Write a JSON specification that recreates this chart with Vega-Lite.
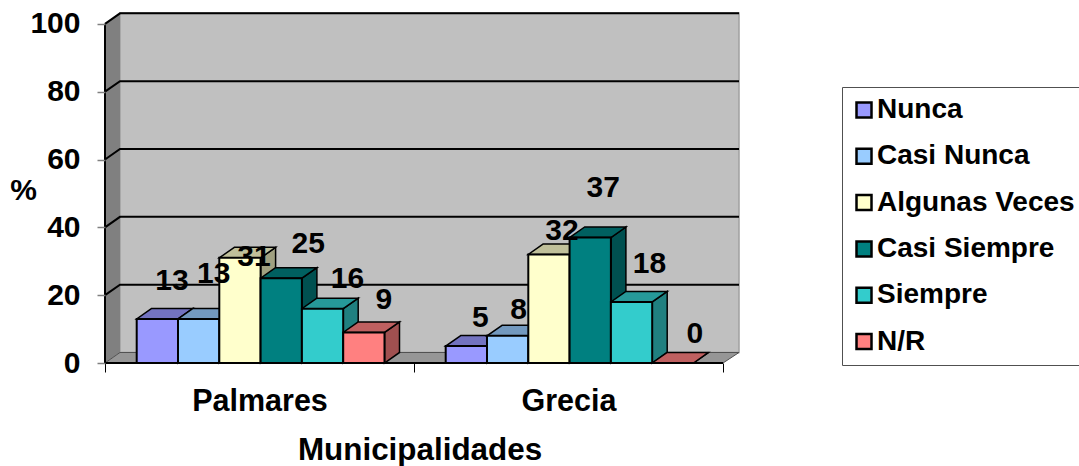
{
  "$schema": "https://vega.github.io/schema/vega-lite/v6.json",
  "width": 634,
  "height": 350,
  "autosize": "none",
  "padding": {"left": 105, "top": 13, "right": 340, "bottom": 103},
  "background": "white",
  "config": {"view": {"stroke": null}, "font": "Liberation Sans"},
  "datasets": {
    "answers": [
      {"municipio": "Palmares", "respuesta": "Nunca", "pct": 13},
      {"municipio": "Palmares", "respuesta": "Casi Nunca", "pct": 13},
      {"municipio": "Palmares", "respuesta": "Algunas Veces", "pct": 31},
      {"municipio": "Palmares", "respuesta": "Casi Siempre", "pct": 25},
      {"municipio": "Palmares", "respuesta": "Siempre", "pct": 16},
      {"municipio": "Palmares", "respuesta": "N/R", "pct": 9},
      {"municipio": "Grecia", "respuesta": "Nunca", "pct": 5},
      {"municipio": "Grecia", "respuesta": "Casi Nunca", "pct": 8},
      {"municipio": "Grecia", "respuesta": "Algunas Veces", "pct": 32},
      {"municipio": "Grecia", "respuesta": "Casi Siempre", "pct": 37},
      {"municipio": "Grecia", "respuesta": "Siempre", "pct": 18},
      {"municipio": "Grecia", "respuesta": "N/R", "pct": 0}
    ],
    "depth": [{"t": 0}, {"t": 1}],
    "gridlines": [
      {"tick": 20, "k": 0}, {"tick": 20, "k": 1}, {"tick": 20, "k": 2},
      {"tick": 40, "k": 0}, {"tick": 40, "k": 1}, {"tick": 40, "k": 2},
      {"tick": 60, "k": 0}, {"tick": 60, "k": 1}, {"tick": 60, "k": 2},
      {"tick": 80, "k": 0}, {"tick": 80, "k": 1}, {"tick": 80, "k": 2},
      {"tick": 100, "k": 0}, {"tick": 100, "k": 1}, {"tick": 100, "k": 2}
    ]
  },
  "layer": [
    {
      "description": "Back wall, which also carries both axes",
      "data": {"name": "depth"},
      "transform": [{"calculate": "datum.t * 619 + 15", "as": "wx"}],
      "mark": {"type": "area", "fill": "#C0C0C0", "stroke": "#A0A0A0", "strokeWidth": 1.5},
      "encoding": {
        "x": {
          "field": "wx", "type": "quantitative",
          "scale": {"domain": [0, 634], "nice": false, "zero": false},
          "axis": {
            "orient": "bottom",
            "values": [0, 154.5, 309, 463.5, 618],
            "labelExpr": "datum.value == 154.5 ? 'Palmares' : datum.value == 463.5 ? 'Grecia' : ''",
            "grid": false,
            "domain": false,
            "tickColor": "black",
            "tickWidth": 1,
            "tickSize": 9,
            "tickOpacity": {"condition": {"test": "datum.value == 154.5 || datum.value == 463.5", "value": 0}, "value": 1},
            "labelFontSize": 30.5,
            "labelFontWeight": "bold",
            "labelColor": "black",
            "labelPadding": 14,
            "labelOverlap": false,
            "labelFlush": false,
            "title": "Municipalidades",
            "titleFontSize": 31.4,
            "titleFontWeight": "bold",
            "titleColor": "black",
            "titleX": 314.5,
            "titleY": 87,
            "titleAnchor": "middle",
            "titleBaseline": "middle",
            "zindex": 1
          }
        },
        "y": {
          "datum": 3.1, "type": "quantitative",
          "scale": {"domain": [0, 103.2], "nice": false, "zero": false},
          "axis": {
            "orient": "left",
            "values": [0, 20, 40, 60, 80, 100],
            "grid": false,
            "domain": false,
            "tickColor": "#808080",
            "tickWidth": 1.5,
            "tickSize": 8,
            "labelFontSize": 30,
            "labelFontWeight": "bold",
            "labelColor": "black",
            "labelPadding": 17,
            "title": "%",
            "titleAngle": 0,
            "titleFontSize": 30,
            "titleFontWeight": "bold",
            "titleColor": "black",
            "titleX": -82,
            "titleY": 177,
            "titleAlign": "center",
            "titleBaseline": "middle",
            "zindex": 1
          }
        },
        "y2": {"datum": 103.2}
      }
    },
    {
      "description": "Left wall",
      "data": {"name": "depth"},
      "transform": [
        {"calculate": "datum.t * 15", "as": "wx"},
        {"calculate": "datum.t * 3.1", "as": "wy"},
        {"calculate": "100 + datum.t * 3.1", "as": "wy2"}
      ],
      "mark": {"type": "area", "fill": "#808080"},
      "encoding": {
        "x": {"field": "wx", "type": "quantitative"},
        "y": {"field": "wy", "type": "quantitative", "stack": null},
        "y2": {"field": "wy2"}
      }
    },
    {
      "description": "Floor",
      "data": {"name": "depth"},
      "transform": [
        {"calculate": "datum.t * 15", "as": "wx"},
        {"calculate": "618 + datum.t * 16", "as": "wx2"},
        {"calculate": "datum.t * 3.1", "as": "wy"}
      ],
      "mark": {"type": "area", "orient": "horizontal", "fill": "#969696", "stroke": "#505050", "strokeWidth": 1},
      "encoding": {
        "x": {"field": "wx", "type": "quantitative", "stack": null},
        "x2": {"field": "wx2"},
        "y": {"field": "wy", "type": "quantitative"}
      }
    },
    {
      "description": "Gridlines folded across the left and back walls",
      "data": {"name": "gridlines"},
      "transform": [
        {"calculate": "[0, 15, 634][datum.k]", "as": "gx"},
        {"calculate": "datum.tick + (datum.k > 0 ? 3.1 : 0)", "as": "gy"}
      ],
      "mark": {"type": "line", "stroke": "black", "strokeWidth": 2, "clip": false},
      "encoding": {
        "x": {"field": "gx", "type": "quantitative"},
        "y": {"field": "gy", "type": "quantitative"},
        "detail": {"field": "tick"},
        "order": {"field": "k"}
      }
    },
    {
      "description": "Right faces of the bars",
      "data": {"name": "answers"},
      "transform": [
        {"calculate": "indexof(['Palmares','Grecia'], datum.municipio)", "as": "g"},
        {"calculate": "indexof(['Nunca','Casi Nunca','Algunas Veces','Casi Siempre','Siempre','N/R'], datum.respuesta)", "as": "s"},
        {"calculate": "31.7 + 309 * datum.g + 41.3 * (datum.s + 1)", "as": "x1"},
        {"calculate": "[0, 1]", "as": "t"},
        {"flatten": ["t"]},
        {"calculate": "datum.x1 + 15 * datum.t", "as": "fx"},
        {"calculate": "datum.pct + 3.1 * datum.t", "as": "fy"},
        {"calculate": "3.1 * datum.t", "as": "fy2"}
      ],
      "mark": {"type": "area", "stroke": "black", "strokeWidth": 1.5},
      "encoding": {
        "x": {"field": "fx", "type": "quantitative"},
        "y": {"field": "fy", "type": "quantitative", "stack": null},
        "y2": {"field": "fy2"},
        "detail": {"field": "municipio"},
        "fill": {
          "field": "respuesta", "type": "nominal", "legend": null,
          "scale": {
            "domain": ["Nunca", "Casi Nunca", "Algunas Veces", "Casi Siempre", "Siempre", "N/R"],
            "range": ["#6060A0", "#6080A0", "#A0A080", "#005050", "#208080", "#A05050"]
          }
        }
      }
    },
    {
      "description": "Top faces of the bars",
      "data": {"name": "answers"},
      "transform": [
        {"calculate": "indexof(['Palmares','Grecia'], datum.municipio)", "as": "g"},
        {"calculate": "indexof(['Nunca','Casi Nunca','Algunas Veces','Casi Siempre','Siempre','N/R'], datum.respuesta)", "as": "s"},
        {"calculate": "31.7 + 309 * datum.g + 41.3 * datum.s", "as": "x0"},
        {"calculate": "[0, 1]", "as": "t"},
        {"flatten": ["t"]},
        {"calculate": "datum.x0 + 15 * datum.t", "as": "fx"},
        {"calculate": "datum.x0 + 41.3 + 15 * datum.t", "as": "fx2"},
        {"calculate": "datum.pct + 3.1 * datum.t", "as": "fy"}
      ],
      "mark": {"type": "area", "orient": "horizontal", "stroke": "black", "strokeWidth": 1.5},
      "encoding": {
        "x": {"field": "fx", "type": "quantitative", "stack": null},
        "x2": {"field": "fx2"},
        "y": {"field": "fy", "type": "quantitative"},
        "detail": {"field": "municipio"},
        "fill": {
          "field": "respuesta", "type": "nominal", "legend": null,
          "scale": {
            "domain": ["Nunca", "Casi Nunca", "Algunas Veces", "Casi Siempre", "Siempre", "N/R"],
            "range": ["#7373C0", "#7399BF", "#C0C09A", "#006060", "#269999", "#BF6060"]
          }
        }
      }
    },
    {
      "description": "Front faces of the bars and the legend",
      "data": {"name": "answers"},
      "transform": [
        {"calculate": "indexof(['Palmares','Grecia'], datum.municipio)", "as": "g"},
        {"calculate": "indexof(['Nunca','Casi Nunca','Algunas Veces','Casi Siempre','Siempre','N/R'], datum.respuesta)", "as": "s"},
        {"calculate": "31.7 + 309 * datum.g + 41.3 * datum.s", "as": "x0"},
        {"calculate": "datum.x0 + 41.3", "as": "x1"}
      ],
      "mark": {"type": "rect", "stroke": "black", "strokeWidth": 2},
      "encoding": {
        "x": {"field": "x0", "type": "quantitative"},
        "x2": {"field": "x1"},
        "y": {"field": "pct", "type": "quantitative", "stack": null},
        "y2": {"datum": 0},
        "fill": {
          "field": "respuesta", "type": "nominal",
          "scale": {
            "domain": ["Nunca", "Casi Nunca", "Algunas Veces", "Casi Siempre", "Siempre", "N/R"],
            "range": ["#9999FF", "#99CCFF", "#FFFFCC", "#008080", "#33CCCC", "#FF8080"]
          },
          "legend": {
            "orient": "none",
            "legendX": 737,
            "legendY": 74,
            "title": null,
            "fillColor": "white",
            "strokeColor": "#505050",
            "padding": 9,
            "symbolType": "square",
            "symbolSize": 225,
            "symbolStrokeColor": "black",
            "symbolStrokeWidth": 2.5,
            "symbolOffset": -1,
            "labelFontSize": 28,
            "labelFontWeight": "bold",
            "labelColor": "black",
            "labelOffset": -1,
            "labelLimit": 300,
            "rowPadding": 18.3
          }
        }
      }
    },
    {
      "description": "Outer edges of the left wall and floor",
      "data": {"values": [{"ax": 0, "ax2": 0, "ay": 0, "ay2": 100}, {"ax": 0, "ax2": 618, "ay": 0, "ay2": 0}]},
      "mark": {"type": "rule", "stroke": "black", "strokeWidth": 2},
      "encoding": {
        "x": {"field": "ax", "type": "quantitative"},
        "x2": {"field": "ax2"},
        "y": {"field": "ay", "type": "quantitative"},
        "y2": {"field": "ay2"}
      }
    },
    {
      "description": "Value labels, floating above and behind each bar",
      "data": {"name": "answers"},
      "transform": [
        {"calculate": "indexof(['Palmares','Grecia'], datum.municipio)", "as": "g"},
        {"calculate": "indexof(['Nunca','Casi Nunca','Algunas Veces','Casi Siempre','Siempre','N/R'], datum.respuesta)", "as": "s"},
        {"calculate": "datum.g * 6 + datum.s", "as": "i"},
        {"calculate": "52.35 + 309 * datum.g + 41.3 * datum.s + [14.6, 15, 14, 27, 25, 20, 14, 11, 13, 13, 18, 22][datum.i]", "as": "lx"},
        {"calculate": "datum.pct + [11.5, 13.5, 0.6, 10.4, 9.1, 9.9, 8.6, 7.9, 7.2, 14.9, 11.5, 8.8][datum.i]", "as": "ly"}
      ],
      "mark": {"type": "text", "fontSize": 30, "fontWeight": "bold", "color": "black", "baseline": "middle", "align": "center", "dy": 1},
      "encoding": {
        "x": {"field": "lx", "type": "quantitative"},
        "y": {"field": "ly", "type": "quantitative"},
        "text": {"field": "pct", "type": "quantitative"}
      }
    }
  ],
  "resolve": {"scale": {"fill": "independent"}}
}
